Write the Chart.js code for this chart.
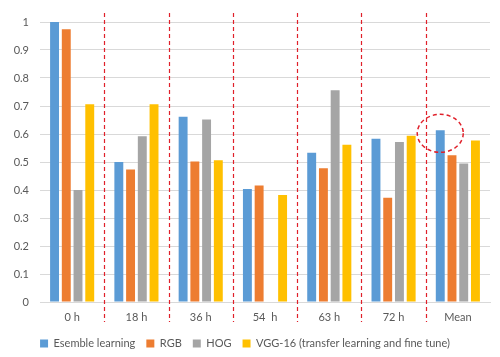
<!DOCTYPE html>
<html><head><meta charset="utf-8">
<script src="https://cdn.jsdelivr.net/npm/chart.js@4"></script>
<style>html,body{margin:0;padding:0;background:#fff}#w{width:500px;height:357px}</style>
</head><body><div id="w"><canvas id="c"></canvas></div>
<script>
const categories = ["0 h","18 h","36 h","54  h","63 h","72 h","Mean"];
const ensemble = [1.0, 0.50, 0.662, 0.404, 0.533, 0.583, 0.613];
const rgb = [0.974, 0.473, 0.502, 0.416, 0.478, 0.372, 0.524];
const hog = [0.400, 0.592, 0.652, 0, 0.756, 0.571, 0.495];
const vgg = [0.706, 0.706, 0.506, 0.382, 0.562, 0.594, 0.577];
const seriesNames = ["Esemble learning","RGB","HOG","VGG-16 (transfer learning and fine tune)"];
const colors = ["#5B9BD5","#ED7D31","#A5A5A5","#FFC000"];
const highlightCategory = 6;

const overlay = {
  id:'overlay',
  afterDatasetsDraw(chart){
    const ctx = chart.ctx, x = chart.scales.x, a = chart.chartArea;
    ctx.save();
    ctx.strokeStyle = '#E0202A';
    ctx.lineWidth = 1.2;
    ctx.setLineDash([4,3]);
    for (let i=0;i<categories.length-1;i++){
      const px = (x.getPixelForValue(i)+x.getPixelForValue(i+1))/2;
      ctx.beginPath(); ctx.moveTo(Math.round(px)+0.5, a.top-9); ctx.lineTo(Math.round(px)+0.5, a.bottom+20); ctx.stroke();
    }
    const bar = chart.getDatasetMeta(0).data[highlightCategory];
    ctx.lineWidth = 1.5;
    ctx.beginPath();
    ctx.ellipse(bar.x, bar.y+3, 23, 19, 0, 0, Math.PI*2);
    ctx.stroke();
    ctx.restore();
  }
};

new Chart(document.getElementById('c'), {
  type:'bar',
  data:{
    labels: categories,
    datasets: [ensemble,rgb,hog,vgg].map((d,i)=>({label:seriesNames[i], data:d, backgroundColor:colors[i], categoryPercentage:0.73, barPercentage:0.76}))
  },
  options:{
    responsive:true, maintainAspectRatio:false, animation:false,
    layout:{padding:{top:22,right:10,left:0,bottom:-2}},
    plugins:{
      legend:{position:'bottom', labels:{boxWidth:8, boxHeight:8, padding:11, color:'#595959', font:{family:'Lato', size:11}}},
      tooltip:{enabled:false}
    },
    scales:{
      x:{grid:{display:false, drawTicks:false}, border:{color:'#d9d9d9'}, ticks:{color:'#595959', font:{family:'Lato', size:11}, padding:9},
         afterFit:s=>{ s.height = 25; }},
      y:{min:0, max:1, ticks:{stepSize:0.1, color:'#595959', font:{family:'Lato', size:11}, padding:11, callback:v=>String(Math.round(v*10)/10)}, grid:{color:'#d9d9d9', drawTicks:false}, border:{display:false},
         afterFit:s=>{ s.width = 40; }}
    }
  },
  plugins:[overlay]
});
</script></body></html>
